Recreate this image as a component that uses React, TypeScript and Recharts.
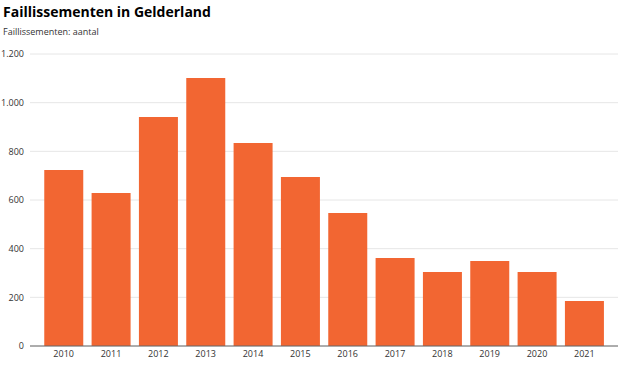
import { BarChart, Bar, XAxis, YAxis, CartesianGrid } from 'recharts'

const years = ['2010', '2011', '2012', '2013', '2014', '2015', '2016', '2017', '2018', '2019', '2020', '2021']
const faillissementen = [723, 629, 941, 1101, 834, 695, 547, 362, 304, 349, 304, 185]
const yTicks = [0, 200, 400, 600, 800, 1000, 1200]

const data = years.map((jaar, i) => ({ jaar, aantal: faillissementen[i] }))

const fmt = (v: number) => v.toLocaleString('nl-NL')

export default function App() {
  return (
    <div
      style={{
        position: 'absolute',
        left: 0,
        top: 0,
        width: 620,
        height: 365,
        background: '#fff',
        fontFamily: '"Open Sans", sans-serif',
      }}
    >
      <div style={{ position: 'absolute', left: 3, top: 2, fontSize: 14, fontWeight: 700, color: '#000' }}>
        Faillissementen in Gelderland
      </div>
      <div style={{ position: 'absolute', left: 3, top: 25, fontSize: 9, color: '#333' }}>
        Faillissementen: aantal
      </div>
      <BarChart
        width={620}
        height={365}
        data={data}
        margin={{ top: 54, right: 2, bottom: 0, left: 0 }}
        barCategoryGap="9%"
      >
        <CartesianGrid vertical={false} stroke="#e6e6e6" />
        <XAxis
          dataKey="jaar"
          height={19}
          padding={{ left: 10, right: 10 }}
          tickLine={false}
          tickSize={0}
          tickMargin={5}
          axisLine={{ stroke: '#666' }}
          tick={{ fontSize: 9, fill: '#333' }}
          interval={0}
        />
        <YAxis
          width={30}
          domain={[0, 1200]}
          ticks={yTicks}
          tickFormatter={fmt}
          axisLine={false}
          tickLine={false}
          tickSize={0}
          tickMargin={6}
          tick={{ fontSize: 9, fill: '#333' }}
        />
        <Bar dataKey="aantal" fill="#f26632" isAnimationActive={false} />
      </BarChart>
    </div>
  )
}
